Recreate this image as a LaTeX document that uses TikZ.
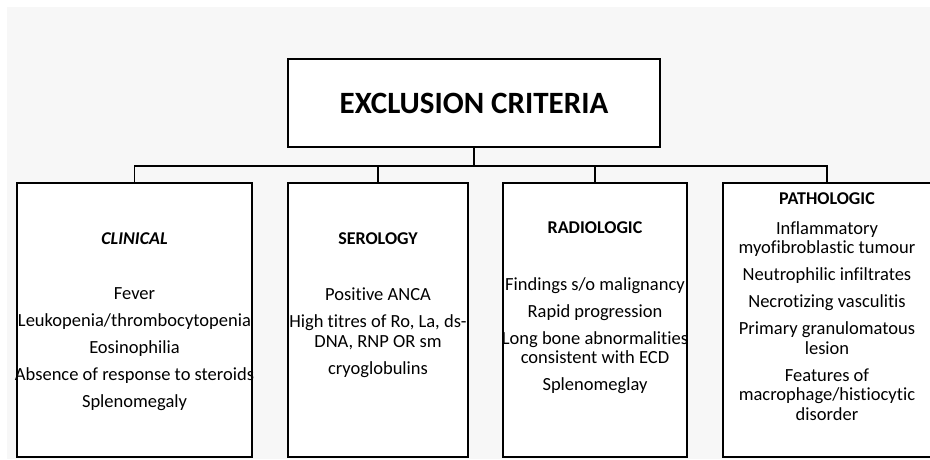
\documentclass[tikz,border=0pt]{standalone}
\usepackage{fontspec}
\setmainfont{Carlito}[Ligatures={TeX,NoCommon}]
\definecolor{pagegray}{HTML}{F7F7F7}
\begin{document}
\begin{tikzpicture}[x=1pt,y=-1pt,
    every node/.append style={inner sep=0pt},
    catbox/.style={draw,line width=1.5pt,fill=white,minimum height=274pt},
    head/.style={font=\fontsize{18}{20}\selectfont\bfseries},
    items/.style={font=\fontsize{18.5}{19.5}\selectfont,align=center,anchor=north}]
    \useasboundingbox (0,0) rectangle (930,459);
    \fill[pagegray] (7,7) rectangle (930,459);
    \node[catbox,minimum width=372pt,minimum height=88pt,
        font=\fontsize{31}{34}\selectfont\bfseries] (title) at (474,103) {EXCLUSION CRITERIA};
    \node[catbox,minimum width=235pt] (clinical) at (134.5,320) {};
    \node[catbox,minimum width=180pt] (serology) at (378,320) {};
    \node[catbox,minimum width=184pt] (radiologic) at (595,320) {};
    \node[catbox,minimum width=208pt] (pathologic) at (827,320) {};
    % tree lines
    \draw[line width=1.5pt] (title.south) -- ++(0,18) coordinate (hub);
    \draw[line width=1.5pt] (clinical.north) |- (hub) -| (pathologic.north);
    \draw[line width=1.5pt] (serology.north) -- (serology.north |- hub);
    \draw[line width=1.5pt] (radiologic.north) -- (radiologic.north |- hub);
    % headings
    \node[head] (clinicalhead) at (134.5,239) {\itshape CLINICAL};
    \node[head] (serologyhead) at (378,239) {SEROLOGY};
    \node[head] (radiologichead) at (595,228) {RADIOLOGIC};
    \node[head] (pathologichead) at (827,199) {PATHOLOGIC};
    % lists
    \node[items] (clinicallist) at (134.5,287) {Fever\\[7.5pt]
        Leukopenia/thrombocytopenia\\[7.5pt] Eosinophilia\\[7.5pt]
        Absence of response to steroids\\[7.5pt] Splenomegaly};
    \node[items] (serologylist) at (378,288) {Positive ANCA\\[7.5pt]
        High titres of Ro, La, ds-\\DNA, RNP OR sm\\[7.5pt] cryoglobulins};
    \node[items] (radiologiclist) at (595,277) {Findings s/o malignancy\\[7.5pt]
        Rapid progression\\[7.5pt] Long bone abnormalities\\consistent with ECD\\[7.5pt]
        Splenomeglay};
    \node[items] (pathologiclist) at (827,221) {Inflammatory\\myofibroblastic tumour\\[7.5pt]
        Neutrophilic infiltrates\\[7.5pt] Necrotizing vasculitis\\[7.5pt]
        Primary granulomatous\\lesion\\[7.5pt] Features of\\macrophage/histiocytic\\disorder};
\end{tikzpicture}
\end{document}
